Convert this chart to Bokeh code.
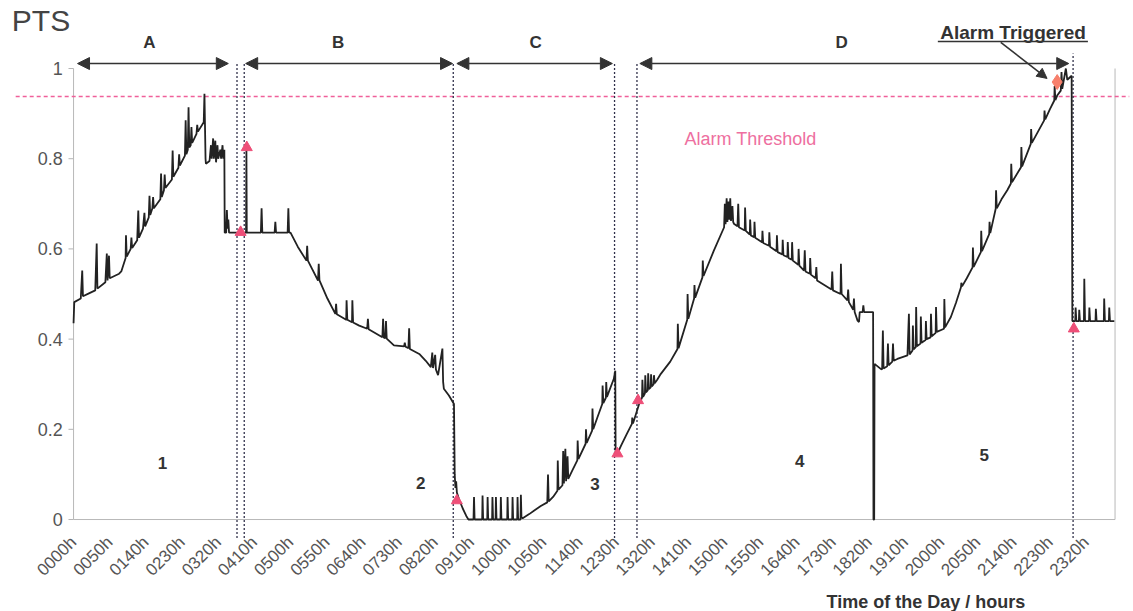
import math
from bokeh.plotting import figure
from bokeh.models import Range1d, FixedTicker, Arrow, NormalHead, Title
from bokeh.embed import file_html
from bokeh.resources import INLINE
from bokeh.core.properties import value

# ---------------- data ----------------
# time in minutes after midnight, PTS value
t_min = [
    0, 1, 10, 12, 13, 22, 30, 32, 33, 44, 46, 47, 49, 50, 63, 66, 72, 72.5, 73.5, 79, 80, 81,
    88, 89.5, 90.5, 96, 98, 99, 104, 105, 106, 109, 110, 111, 120, 121, 122, 125, 126, 127,
    136, 137, 138, 145, 146, 147, 154, 155, 156, 158, 159, 160, 162, 163, 164, 170, 171, 172,
    180, 181, 182.5, 183, 188, 190, 191, 193, 194, 196, 197, 199, 200, 203, 204, 206, 207,
    208.5, 209, 211, 212, 213, 214, 215, 238.5, 239, 239.5, 259, 260, 261, 278, 279, 280,
    296, 297, 298, 300,
    310, 322, 323, 324, 330, 338, 339, 340, 351, 362, 363, 364, 377, 377.5, 378.5, 385, 385.5,
    386.5, 395, 406, 407, 408, 427, 428, 429, 431, 432, 433, 443, 457, 458, 459, 463, 464, 465,
    478, 487, 494, 496, 497, 500, 501, 504, 510, 511, 512, 519, 526,
    527, 528, 529, 530, 533, 538, 543, 546,
    553, 553.7, 554.5, 565, 565.5, 566.3, 572, 572.5, 573.3, 578.7, 579.2, 580, 583.5, 584, 584.8,
    590.3, 590.8, 591.6, 599.6, 600.1, 600.9, 606.5, 607, 607.8, 613.4, 613.9, 614.7, 618, 618.5, 619.3,
    621, 630, 637, 646, 655, 656, 657, 663, 669, 669.5, 670.5, 676, 677, 678, 680, 681, 683, 684,
    690, 696.5, 697, 698, 708, 708.5, 709.5, 717, 717.5, 718.5, 724, 731, 731.5, 732.5, 736, 736.5,
    737.5, 747, 749, 749.5,
    752, 757, 765, 772, 772.5, 773.5, 782, 786, 786.5, 787.5, 790, 790.5, 791.5, 794, 794.5, 795.5,
    798, 798.5, 799.5, 802, 802.5, 803.5, 807, 812, 825, 835, 835.5, 836.5, 848.5, 849, 850, 858,
    858.5, 859.5, 869.5, 870, 871, 885, 899.5, 900.5, 901.5, 903, 904, 905.5, 906.5, 908, 909, 911,
    912, 913, 918, 919, 920, 928, 928.5, 929.5, 935, 935.5, 936.5, 941, 941.5, 942.5, 952, 952.5,
    953.5, 961.5, 962, 963, 972, 972.5, 973.5, 980, 980.5, 981.5, 987, 987.5, 988.5, 993, 993.5,
    994.5, 1002, 1002.5, 1003.5, 1010, 1011, 1012, 1018, 1018.5, 1019.5, 1026, 1027, 1028, 1038,
    1048, 1049, 1050, 1060.5, 1061, 1062, 1070, 1071, 1072, 1078, 1079, 1080, 1084, 1086, 1087,
    1091, 1092, 1093, 1105.5, 1106, 1107, 1107.5,
    1116, 1118, 1119, 1120, 1125, 1126, 1127, 1132, 1133, 1134, 1139, 1146, 1153, 1155, 1156, 1160,
    1160.5, 1161.5, 1164.5, 1165, 1166, 1171, 1171.5, 1172.5, 1178, 1178.5, 1179.5, 1185, 1185.5,
    1186.5, 1192, 1192.5, 1193.5, 1203.5, 1204, 1205, 1213, 1220, 1227, 1227.5, 1228.5, 1235, 1243,
    1243.5, 1244.5, 1254.5, 1255, 1256, 1266, 1266.5, 1267.5, 1275, 1275.5, 1276.5, 1283, 1291, 1296,
    1296.5, 1297.5, 1310, 1310.5, 1311.5, 1323.5, 1324, 1325, 1342, 1342.5, 1343.5, 1350, 1356,
    1356.5, 1357.5, 1360, 1365, 1366, 1367, 1372, 1374, 1380, 1381,
    1385, 1385.5, 1386.5, 1390, 1390.5, 1391.5, 1397, 1397.5, 1398.5, 1404, 1404.5, 1405.5, 1413,
    1413.5, 1414.5, 1424.5, 1425, 1426, 1431.5, 1432, 1433, 1439,
]
pts = [
    0.435, 0.482, 0.49, 0.552, 0.495, 0.502, 0.508, 0.612, 0.512, 0.526, 0.59, 0.53, 0.585, 0.535,
    0.545, 0.55, 0.58, 0.63, 0.583, 0.6, 0.625, 0.602,
    0.619, 0.685, 0.625, 0.645, 0.68, 0.65, 0.67, 0.718, 0.675, 0.69, 0.715, 0.69, 0.71, 0.767, 0.715,
    0.73, 0.765, 0.735,
    0.754, 0.818, 0.76, 0.78, 0.81, 0.785, 0.807, 0.885, 0.81, 0.82, 0.914, 0.825, 0.83, 0.87, 0.835,
    0.855, 0.875, 0.86,
    0.881, 0.944, 0.80, 0.789, 0.795, 0.83, 0.8, 0.845, 0.8, 0.84, 0.792, 0.83, 0.8, 0.82, 0.8, 0.83, 0.8,
    0.82, 0.636, 0.636, 0.686, 0.645, 0.665, 0.636, 0.636, 0.825, 0.636, 0.636, 0.69, 0.636, 0.636,
    0.66, 0.636,
    0.636, 0.69, 0.636, 0.636,
    0.605, 0.574, 0.607, 0.574, 0.555, 0.53, 0.567, 0.53, 0.49, 0.456, 0.478, 0.455, 0.443, 0.486,
    0.443, 0.4375, 0.486,
    0.437, 0.43, 0.423, 0.445, 0.422, 0.404, 0.445, 0.403, 0.402, 0.44, 0.401, 0.386, 0.384, 0.392,
    0.383, 0.38, 0.424, 0.378,
    0.367, 0.352, 0.338, 0.37, 0.336, 0.365, 0.333, 0.32, 0.379, 0.305, 0.29, 0.275, 0.256,
    0.1, 0.07, 0.085, 0.06, 0.045, 0.025, 0.008, 0.0,
    0.0, 0.05, 0.0, 0.0, 0.053, 0.0, 0.0, 0.05, 0.0, 0.0, 0.05, 0.0, 0.0, 0.05, 0.0,
    0.0, 0.05, 0.0, 0.0, 0.05, 0.0, 0.0, 0.05, 0.0, 0.0, 0.05, 0.0, 0.0, 0.055, 0.005,
    0.003, 0.012, 0.02, 0.03, 0.038, 0.1, 0.04, 0.05, 0.064, 0.131, 0.066, 0.076, 0.152, 0.08, 0.157,
    0.085, 0.14, 0.09,
    0.11, 0.131, 0.175, 0.134, 0.168, 0.2, 0.17, 0.197, 0.246, 0.2, 0.225, 0.256, 0.297, 0.258, 0.27,
    0.305,
    0.272, 0.312, 0.33, 0.146,
    0.146, 0.164, 0.19, 0.212, 0.226, 0.213, 0.256, 0.27, 0.31, 0.272, 0.28, 0.32, 0.282, 0.287, 0.324,
    0.289,
    0.293, 0.322, 0.295, 0.3, 0.32, 0.302, 0.31, 0.323, 0.35, 0.378, 0.434, 0.38, 0.443, 0.5, 0.445,
    0.49,
    0.52, 0.492, 0.537, 0.574, 0.54, 0.595, 0.648, 0.7, 0.655, 0.712, 0.66, 0.705, 0.665, 0.712, 0.662,
    0.695,
    0.66, 0.656, 0.65, 0.7, 0.648, 0.641, 0.692, 0.64, 0.632, 0.665, 0.63, 0.626, 0.66, 0.625, 0.615,
    0.64,
    0.613, 0.607, 0.637, 0.605, 0.595, 0.63, 0.593, 0.588, 0.62, 0.586, 0.582, 0.615, 0.58, 0.576,
    0.615,
    0.574, 0.565, 0.6, 0.563, 0.552, 0.597, 0.55, 0.545, 0.58, 0.543, 0.535, 0.56, 0.53, 0.52,
    0.51, 0.55, 0.508, 0.5, 0.567, 0.5, 0.486, 0.51, 0.482, 0.465, 0.49, 0.46, 0.441, 0.438, 0.46,
    0.46, 0.475, 0.46, 0.46, 0.0, 0.0, 0.345,
    0.334, 0.333, 0.419, 0.335, 0.34, 0.39, 0.342, 0.35, 0.39, 0.352, 0.356, 0.36, 0.364, 0.456, 0.366,
    0.375,
    0.43, 0.377, 0.382, 0.471, 0.384, 0.39, 0.45, 0.392, 0.398, 0.44, 0.4, 0.404, 0.456,
    0.406, 0.414, 0.471, 0.416, 0.423, 0.489, 0.426, 0.449, 0.48, 0.515, 0.525, 0.517, 0.535, 0.559,
    0.603, 0.56, 0.593, 0.64, 0.595, 0.633, 0.66, 0.635, 0.689, 0.73, 0.69, 0.71, 0.73, 0.745,
    0.789, 0.748, 0.781, 0.826, 0.783, 0.833, 0.866, 0.835, 0.885, 0.907, 0.887, 0.91, 0.929,
    0.961, 0.93, 0.94, 0.951, 0.992, 0.955, 1.0, 0.975, 0.984, 0.44,
    0.44, 0.47, 0.44, 0.44, 0.465, 0.44, 0.44, 0.534, 0.44, 0.44, 0.47, 0.44, 0.44,
    0.467, 0.44, 0.44, 0.49, 0.44, 0.44, 0.47, 0.44, 0.44,
]

x_ticks = list(range(0, 1401, 50))
x_labels = ["0000h", "0050h", "0140h", "0230h", "0320h", "0410h", "0500h", "0550h", "0640h",
            "0730h", "0820h", "0910h", "1000h", "1050h", "1140h", "1230h", "1320h", "1410h",
            "1500h", "1550h", "1640h", "1730h", "1820h", "1910h", "2000h", "2050h", "2140h",
            "2230h", "2320h"]
y_ticks = [0, 0.2, 0.4, 0.6, 0.8, 1.0]
y_labels = ["0", "0.2", "0.4", "0.6", "0.8", "1"]

alarm_threshold = 0.938

# event markers
tri_t = [231, 239.5, 530, 752, 780.5, 1383]
tri_v = [0.637, 0.825, 0.042, 0.146, 0.264, 0.423]
alarm_t = [1360]
alarm_v = [0.97]

# boundaries (dotted verticals)
bound_t = [226, 236, 525, 748, 779, 1382]
bound_top = [1.013, 1.013, 1.013, 1.013, 1.013, 1.033]
bound_bottom = [-0.05, -0.05, -0.05, -0.05, -0.05, -0.05]

# period arrows
period_names = ["A", "B", "C", "D"]
period_start = [5.5, 238, 530, 783]
period_end = [214, 524, 745, 1376]
period_label_t = [105, 366, 639, 1062]
arrow_level = 1.011
period_label_level = 1.058

# phase numbers
phase_names = ["1", "2", "3", "4", "5"]
phase_t = [123, 480, 721, 1004, 1259]
phase_v = [0.126, 0.082, 0.078, 0.129, 0.142]

FONT = "Liberation Sans"
day_start, day_end = 0, 1440

p = figure(width=1133, height=611,
           x_range=Range1d(-101, 1460), y_range=Range1d(-0.0443, 1.1397),
           y_axis_location=None,
           output_backend="svg", toolbar_location=None,
           min_border_left=0, min_border_right=4, min_border_top=5, min_border_bottom=72)
p.outline_line_color = None
p.grid.visible = False
p.background_fill_color = "white"

# x axis (time of day)
p.xaxis.ticker = FixedTicker(ticks=x_ticks)
p.xaxis.major_label_overrides = {t: lab for t, lab in zip(x_ticks, x_labels)}
p.xaxis.major_label_orientation = math.pi / 4
p.xaxis.axis_line_color = None
p.xaxis.major_tick_out = 0
p.xaxis.major_tick_in = 0
p.xaxis.minor_tick_out = 0
p.xaxis.minor_tick_in = 0
p.xaxis.major_label_standoff = 0
p.xaxis.major_label_text_font = FONT
p.xaxis.major_label_text_font_size = "17px"
p.xaxis.major_label_text_color = "#555555"

p.add_layout(Title(text="Time of the Day / hours", align="left", offset=826, standoff=0,
                   text_font=FONT, text_font_size="18px", text_font_style="bold",
                   text_color="#333333"), "below")

# y axis drawn at t = 0 (value axis), labels and small ticks
p.segment(x0=[day_start] * len(y_ticks), y0=y_ticks, x1=[day_start - 7] * len(y_ticks), y1=y_ticks,
          line_color="#b5b5b5", line_width=1)
p.text(x=[day_start - 15] * len(y_ticks), y=y_ticks, text=y_labels, text_font=value(FONT),
       text_font_size="18px", text_color="#555555", text_align="right", text_baseline="middle")
p.text(x=[-45], y=[1.106], text=["PTS"], text_font=value(FONT), text_font_size="30px",
       text_color="#444444", text_align="center", text_baseline="middle")

# plot frame lines (x axis at 0, value axis at start, right border at end of day)
p.segment(x0=[day_start, day_start, day_end], y0=[0, 0, 0],
          x1=[day_end, day_start, day_end], y1=[0, 1, 1],
          line_color="#b8b8b8", line_width=1)

# threshold
p.segment(x0=[-80], y0=[alarm_threshold], x1=[1460], y1=[alarm_threshold],
          line_color="#f0609a", line_dash="4 3", line_width=1.5)

# boundaries
p.segment(x0=bound_t, y0=bound_bottom, x1=bound_t, y1=bound_top,
          line_color="#30304a", line_dash="2 2", line_width=1.3)

# trace
p.line(t_min, pts, line_color="#222222", line_width=1.8)

# markers
p.scatter(tri_t, tri_v, marker="triangle", size=11, fill_color="#ee4f78", line_color="#ee4f78")
p.scatter(alarm_t, alarm_v, marker="diamond", size=15, fill_color="#f7806c", line_color="#f7806c")

# period arrows
for s, e in zip(period_start, period_end):
    p.add_layout(Arrow(start=NormalHead(size=12, fill_color="#333333", line_color="#333333"),
                       end=NormalHead(size=12, fill_color="#333333", line_color="#333333"),
                       x_start=s, y_start=arrow_level, x_end=e, y_end=arrow_level,
                       line_color="#333333", line_width=1.6))

p.text(x=period_label_t, y=[period_label_level] * len(period_names), text=period_names,
       text_font=value(FONT), text_font_style="bold", text_font_size="17px",
       text_color="#333333", text_align="center", text_baseline="middle")

p.text(x=phase_t, y=phase_v, text=phase_names,
       text_font=value(FONT), text_font_style="bold", text_font_size="17px",
       text_color="#333333", text_align="center", text_baseline="middle")

p.text(x=[936], y=[0.843], text=["Alarm Threshold"], text_font=value(FONT),
       text_font_size="18px", text_color="#ee6fa0", text_align="center", text_baseline="middle")

# alarm triggered annotation
p.text(x=[1299], y=[1.08], text=["Alarm Triggered"], text_font=value(FONT),
       text_font_style="bold", text_font_size="19px", text_color="#333333",
       text_align="center", text_baseline="middle")
p.segment(x0=[1195], y0=[1.06], x1=[1402.5], y1=[1.06], line_color="#333333", line_width=1.5)
p.add_layout(Arrow(end=NormalHead(size=10, fill_color="#333333", line_color="#333333"),
                   x_start=1282, y_start=1.058, x_end=1346, y_end=0.978,
                   line_color="#333333", line_width=1.6))

open("out.html", "w").write(file_html(p, INLINE))
